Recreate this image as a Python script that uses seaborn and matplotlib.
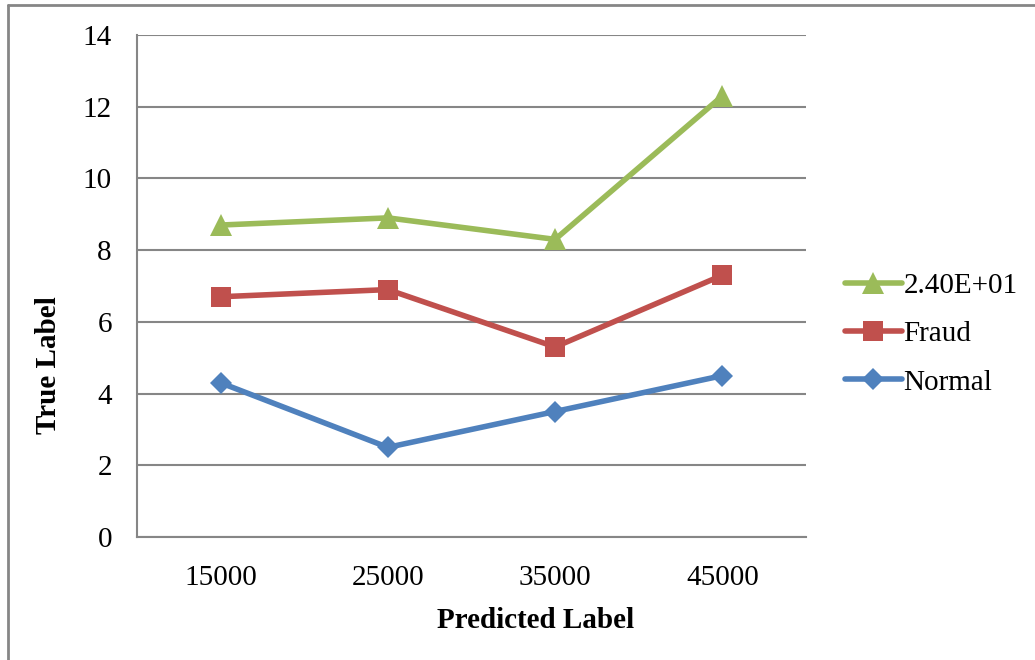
import matplotlib
matplotlib.use("Agg")
import matplotlib.pyplot as plt
from matplotlib.lines import Line2D
from matplotlib.ticker import FixedLocator, NullFormatter
import seaborn as sns
import pandas as pd

# Data
categories = ["15000", "25000", "35000", "45000"]
series_names = ["2.40E+01", "Fraud", "Normal"]
vals_e = [8.7, 8.9, 8.3, 12.3]
vals_fraud = [6.7, 6.9, 5.3, 7.3]
vals_normal = [4.3, 2.5, 3.5, 4.5]
y_ticks = [0, 2, 4, 6, 8, 10, 12, 14]

colors = {"2.40E+01": "#9BBB59", "Fraud": "#C0504D", "Normal": "#4F81BD"}
markers = {"2.40E+01": "^", "Fraud": "s", "Normal": "D"}
msizes = {"2.40E+01": 16, "Fraud": 14, "Normal": 11.5}

df = pd.DataFrame({
    "Predicted": categories * 3,
    "Value": vals_e + vals_fraud + vals_normal,
    "Series": [series_names[0]] * 4 + [series_names[1]] * 4 + [series_names[2]] * 4,
})

sns.set_style("white")
plt.rcParams["font.family"] = ["Liberation Serif", "DejaVu Serif"]
plt.rcParams["text.color"] = "black"
plt.rcParams["axes.labelcolor"] = "black"
plt.rcParams["xtick.color"] = "black"
plt.rcParams["ytick.color"] = "black"

W, H, DPI = 1035, 660, 100
fig = plt.figure(figsize=(W / DPI, H / DPI), dpi=DPI)
ax = fig.add_axes([137 / W, 1 - 537 / H, (806 - 137) / W, (537 - 35) / H])

grid_c = "#868686"
lw = 4.0
for name in series_names:
    sub = df[df["Series"] == name]
    sns.lineplot(data=sub, x="Predicted", y="Value", ax=ax, color=colors[name],
                 linewidth=lw, marker=markers[name], markersize=msizes[name],
                 markeredgewidth=0, sort=False, legend=False)

ax.set_xlim(-0.5, len(categories) - 0.5)
ax.set_ylim(0, 14)
ax.set_yticks(y_ticks)
ax.set_yticklabels([str(t) for t in y_ticks])
ax.yaxis.grid(True, color=grid_c, linewidth=1.5)
ax.xaxis.grid(False)
ax.set_axisbelow(True)

# category boundaries get tick marks, labels sit at category centres
ax.xaxis.set_major_locator(FixedLocator([i - 0.5 for i in range(len(categories) + 1)]))
ax.xaxis.set_major_formatter(NullFormatter())
ax.xaxis.set_minor_locator(FixedLocator(list(range(len(categories)))))
ax.set_xticklabels(categories, minor=True)
ax.tick_params(axis="x", which="major", length=8, width=1.5, color=grid_c, direction="out")
ax.tick_params(axis="x", which="minor", length=0, pad=20, labelsize=21, labelcolor="black")
ax.tick_params(axis="y", length=8, width=1.5, color=grid_c, direction="out",
               labelsize=21, pad=10, labelcolor="black")

for side in ["top", "right"]:
    ax.spines[side].set_visible(False)
for side in ["left", "bottom"]:
    ax.spines[side].set_color(grid_c)
    ax.spines[side].set_linewidth(1.5)

ax.set_xlabel("Predicted Label", fontsize=21, fontweight="bold", color="black")
ax.set_ylabel("True Label", fontsize=21, fontweight="bold", color="black")
ax.xaxis.set_label_coords((536 - 137) / 669, -(620 - 537) / 502)
ax.yaxis.set_label_coords(-(137 - 48) / 669, 1 - (365 - 35) / 502)
ax.xaxis.label.set_verticalalignment("center")
ax.yaxis.label.set_verticalalignment("center")

handles = [Line2D([], [], color=colors[n], linewidth=lw, marker=markers[n],
                  markersize=msizes[n], markeredgewidth=0) for n in series_names]
fig.legend(handles, series_names, loc="center left", bbox_to_anchor=(845 / W, 1 - 334 / H),
           frameon=False, fontsize=21, handlelength=1.95, handletextpad=0.05,
           labelspacing=0.75, borderpad=0, borderaxespad=0)

# outer frame: left and top edges
fig.add_artist(Line2D([8 / W, 8 / W], [0, 1 - 5 / H], transform=fig.transFigure,
                      color=grid_c, linewidth=2))
fig.add_artist(Line2D([8 / W, 1], [1 - 5 / H, 1 - 5 / H], transform=fig.transFigure,
                      color=grid_c, linewidth=2))

fig.savefig("out.png", dpi=DPI, facecolor="white")
